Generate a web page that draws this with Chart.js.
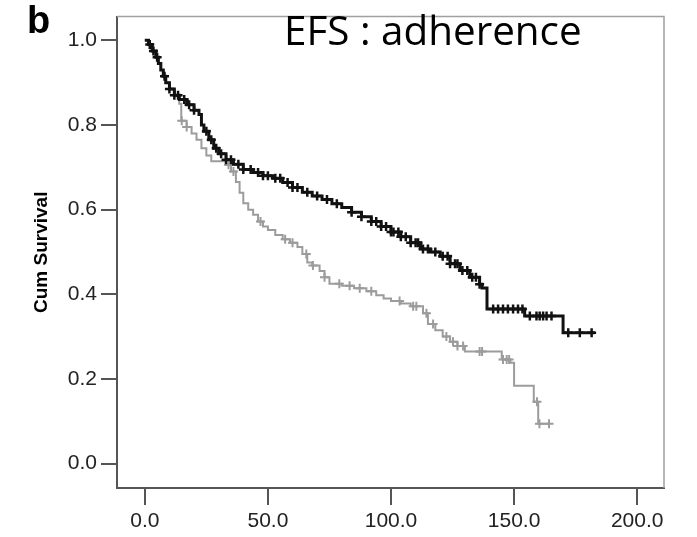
<!DOCTYPE html>
<html><head><meta charset="utf-8">
<script src="https://cdn.jsdelivr.net/npm/chart.js@4/dist/chart.umd.min.js"></script>
<style>html,body{margin:0;padding:0;background:#fff}canvas{display:block}</style>
</head><body>
<canvas id="c" width="697" height="537"></canvas>
<script>
const panelLabel = 'b';
const chartTitle = 'EFS : adherence';
const yAxisTitle = 'Cum Survival';
const xTickValues = [0, 50, 100, 150, 200];
const yTickValues = [0, 0.2, 0.4, 0.6, 0.8, 1.0];

// Adherent group (black)
const adherentTimes = [0, 1.5, 3, 4.5, 5.5, 6.5, 7.5, 8.5, 10, 12, 14, 17, 20, 22, 23, 24, 26, 28, 30, 33, 36, 40, 44, 48, 52, 56, 60, 64, 68, 72, 76, 80, 84, 88, 92, 96, 100, 104, 108, 112, 116, 120, 124, 128, 132, 136, 137, 139, 154.3, 169.9, 182.8];
const adherentSurvival = [1.0, 0.99, 0.975, 0.96, 0.945, 0.93, 0.915, 0.90, 0.885, 0.870, 0.860, 0.848, 0.835, 0.825, 0.800, 0.785, 0.765, 0.745, 0.732, 0.718, 0.707, 0.695, 0.688, 0.680, 0.674, 0.664, 0.652, 0.641, 0.632, 0.624, 0.614, 0.605, 0.594, 0.583, 0.572, 0.560, 0.547, 0.536, 0.522, 0.507, 0.500, 0.490, 0.472, 0.456, 0.440, 0.424, 0.415, 0.365, 0.349, 0.309, 0.309];
const adherentCensorTimes = [2, 3.5, 5, 8, 10, 12, 13.5, 16, 18, 20, 25, 27, 29, 31, 33, 35, 38, 40, 43, 46, 48, 50, 53, 55, 58, 60, 62, 66, 70, 74, 78, 84, 88, 92, 94, 96, 98, 100, 101, 103, 104, 106, 108, 110, 111, 113, 115, 118, 121, 123, 124, 126, 127, 129, 131, 133, 134.5, 136, 141.5, 143.5, 145.5, 147.5, 149.6, 151.6, 153.4, 156.4, 159.1, 160.4, 161.8, 163.2, 165.2, 172, 176.7, 181.5];

// Non-adherent group (grey)
const nonAdherentTimes = [0, 1.5, 3, 4.5, 5.5, 6.5, 7.5, 8.5, 10, 12, 14, 14.8, 17, 19, 21, 23, 25, 27, 33, 35, 37, 38.5, 40, 42, 44, 46, 48, 50, 53, 56, 59, 62, 64, 66, 68, 71, 73, 75, 80, 85, 90, 94, 97, 100, 104, 108, 113, 115, 118, 121, 124, 127, 130, 145, 148.5, 150, 158, 159.8, 164.5];
const nonAdherentSurvival = [1.0, 0.99, 0.975, 0.96, 0.945, 0.93, 0.915, 0.90, 0.885, 0.870, 0.850, 0.810, 0.795, 0.780, 0.765, 0.745, 0.728, 0.714, 0.706, 0.690, 0.665, 0.640, 0.615, 0.600, 0.588, 0.572, 0.560, 0.552, 0.540, 0.530, 0.522, 0.512, 0.495, 0.475, 0.468, 0.455, 0.440, 0.425, 0.420, 0.414, 0.407, 0.398, 0.390, 0.384, 0.378, 0.372, 0.355, 0.330, 0.315, 0.300, 0.288, 0.278, 0.265, 0.246, 0.238, 0.184, 0.146, 0.094, 0.094];
const nonAdherentCensorTimes = [15, 17, 34, 36, 47, 57, 60, 65.6, 68.3, 73, 79, 83.2, 87.3, 92, 103.5, 109, 110.3, 114.4, 117.1, 122.5, 125.2, 127, 129.3, 136, 137, 145.5, 147, 148, 159.3, 160.3, 164.2];

function stepPoints(times, surv) {
  return times.map((t, i) => ({x: t, y: surv[i]}));
}
function censorPoints(censorTimes, times, surv) {
  return censorTimes.map(t => {
    let v = surv[0];
    for (let i = 0; i < times.length; i++) { if (times[i] <= t) v = surv[i]; }
    return {x: t, y: v};
  });
}

const BLACK = '#111111';
const GREY = '#9c9c9c';

const decor = {
  id: 'decor',
  afterDraw(chart) {
    const {ctx, chartArea: a} = chart;
    ctx.save();
    ctx.strokeStyle = '#a0a0a0';
    ctx.lineWidth = 1.5;
    ctx.beginPath();
    ctx.moveTo(a.left, a.top);
    ctx.lineTo(a.right, a.top);
    ctx.lineTo(a.right, a.bottom);
    ctx.stroke();
    ctx.fillStyle = '#000';
    ctx.textBaseline = 'alphabetic';
    ctx.textAlign = 'left';
    ctx.font = '40px "Open Sans"';
    const w = ctx.measureText(chartTitle).width;
    const size = 40 * 298 / w;
    ctx.font = size.toFixed(1) + 'px "Open Sans"';
    ctx.fillText(chartTitle, 284, 45);
    ctx.font = 'bold 38px "Liberation Sans"';
    ctx.fillText(panelLabel, 27, 33);
    ctx.restore();
  }
};

const tickFont = {family: '"Liberation Sans", Arial, sans-serif', size: 21};

new Chart(document.getElementById('c'), {
  type: 'line',
  data: {
    datasets: [
      {data: censorPoints(adherentCensorTimes, adherentTimes, adherentSurvival), showLine: false,
       pointStyle: 'cross', pointRadius: 4.5, pointBorderWidth: 2.5, borderColor: BLACK, backgroundColor: BLACK},
      {data: stepPoints(adherentTimes, adherentSurvival), stepped: 'before', borderColor: BLACK, borderWidth: 3, pointRadius: 0, fill: false},
      {data: censorPoints(nonAdherentCensorTimes, nonAdherentTimes, nonAdherentSurvival), showLine: false,
       pointStyle: 'cross', pointRadius: 4.5, pointBorderWidth: 2, borderColor: GREY, backgroundColor: GREY},
      {data: stepPoints(nonAdherentTimes, nonAdherentSurvival), stepped: 'before', borderColor: GREY, borderWidth: 2, pointRadius: 0, fill: false}
    ]
  },
  options: {
    responsive: false,
    animation: false,
    devicePixelRatio: 1,
    layout: {padding: {left: 0, top: 5, right: 33, bottom: 0}},
    plugins: {legend: {display: false}, tooltip: {enabled: false}, title: {display: false}},
    scales: {
      x: {
        type: 'linear', min: -11.3, max: 210.9,
        afterBuildTicks: s => { s.ticks = xTickValues.map(v => ({value: v})); },
        afterFit: s => { s.height = 49; },
        ticks: {callback: v => v.toFixed(1), font: tickFont, color: '#222', padding: 4, maxRotation: 0, autoSkip: false},
        grid: {drawOnChartArea: false, drawTicks: true, tickLength: 17, color: '#555', lineWidth: 2},
        border: {display: true, color: '#555', width: 2}
      },
      y: {
        type: 'linear', min: -0.0576, max: 1.056,
        afterBuildTicks: s => { s.ticks = yTickValues.map(v => ({value: v})); },
        afterFit: s => { s.width = 117; },
        ticks: {callback: v => v.toFixed(1), font: tickFont, color: '#222', padding: 4, autoSkip: false},
        grid: {drawOnChartArea: false, drawTicks: true, tickLength: 16, color: '#555', lineWidth: 2},
        border: {display: true, color: '#555', width: 2},
        title: {display: true, text: yAxisTitle, color: '#000', font: {family: '"Liberation Sans", Arial, sans-serif', size: 19, weight: 'bold'}, padding: {top: 30, bottom: 0}}
      }
    }
  },
  plugins: [decor]
});
</script>
</body></html>
